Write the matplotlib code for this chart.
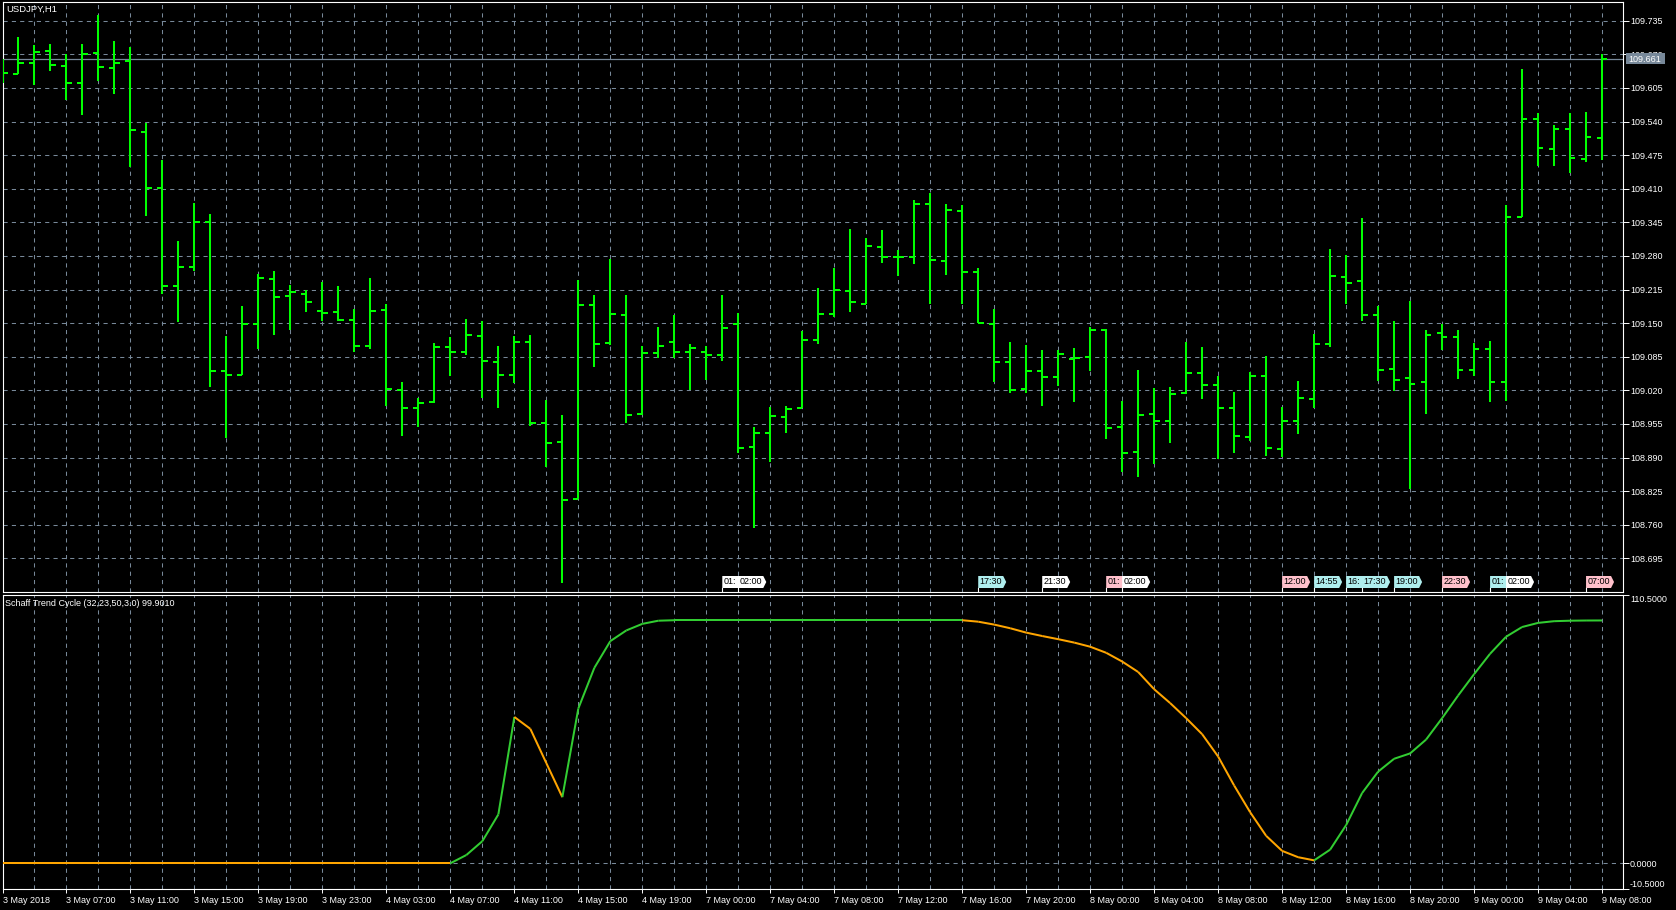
#!/usr/bin/env python3
"""USDJPY H1 bar chart with a Schaff Trend Cycle sub-window, MT4 style."""

import matplotlib
matplotlib.use("Agg")
import matplotlib.pyplot as plt
import matplotlib.transforms as mtransforms
from matplotlib.collections import LineCollection
from matplotlib.patches import Polygon, Rectangle


# --- Data ---
symbol_title = "USDJPY,H1"
indicator_title = "Schaff Trend Cycle (32,23,50,3.0) 99.9010"
bid_price = 109.661

time_labels = [
    "3 May 2018", "3 May 07:00", "3 May 11:00", "3 May 15:00", "3 May 19:00",
    "3 May 23:00", "4 May 03:00", "4 May 07:00", "4 May 11:00", "4 May 15:00",
    "4 May 19:00", "7 May 00:00", "7 May 04:00", "7 May 08:00", "7 May 12:00",
    "7 May 16:00", "7 May 20:00", "8 May 00:00", "8 May 04:00", "8 May 08:00",
    "8 May 12:00", "8 May 16:00", "8 May 20:00", "9 May 00:00", "9 May 04:00",
    "9 May 08:00",
]

opens = [
    109.640, 109.632, 109.653, 109.677, 109.647, 109.615, 109.673, 109.644, 109.658, 109.520,
    109.411, 109.222, 109.259, 109.346, 109.057, 109.049, 109.148, 109.236, 109.202, 109.206,
    109.174, 109.172, 109.156, 109.106, 109.175, 109.021, 108.985, 108.998, 109.103, 109.094,
    109.126, 109.075, 109.050, 109.114, 108.957, 108.921, 108.809, 109.186, 109.112, 109.166,
    108.974, 109.093, 109.114, 109.094, 109.094, 109.089, 109.148, 108.911, 108.938, 108.969,
    108.986, 109.117, 109.168, 109.213, 109.187, 109.298, 109.278, 109.278, 109.380, 109.270,
    109.366, 109.248, 109.149, 109.074, 109.023, 109.057, 109.046, 109.081, 109.085, 109.137,
    108.949, 108.900, 108.974, 108.960, 109.014, 109.054, 109.031, 108.986, 108.930, 109.048,
    108.907, 108.960, 109.004, 109.110, 109.240, 109.232, 109.166, 109.062, 109.044, 109.036,
    109.130, 109.124, 109.059, 109.100, 109.037, 109.355, 109.545, 109.487, 109.526, 109.468,
    109.509,
]
highs = [
    109.660, 109.703, 109.688, 109.690, 109.671, 109.690, 109.746, 109.695, 109.684, 109.537,
    109.466, 109.309, 109.382, 109.361, 109.125, 109.183, 109.245, 109.251, 109.224, 109.215,
    109.230, 109.222, 109.177, 109.237, 109.187, 109.036, 109.005, 109.111, 109.123, 109.159,
    109.155, 109.105, 109.125, 109.128, 109.001, 108.972, 109.234, 109.204, 109.274, 109.204,
    109.106, 109.143, 109.166, 109.110, 109.106, 109.204, 109.169, 108.950, 108.987, 108.990,
    109.135, 109.218, 109.257, 109.332, 109.315, 109.330, 109.291, 109.388, 109.401, 109.380,
    109.379, 109.256, 109.177, 109.113, 109.108, 109.098, 109.099, 109.101, 109.143, 109.138,
    108.999, 109.059, 109.025, 109.026, 109.114, 109.103, 109.048, 109.017, 109.056, 109.086,
    108.987, 109.038, 109.129, 109.293, 109.281, 109.353, 109.183, 109.154, 109.192, 109.136,
    109.148, 109.136, 109.111, 109.115, 109.379, 109.642, 109.556, 109.533, 109.556, 109.558,
    109.671,
]
lows = [
    109.615, 109.632, 109.611, 109.638, 109.582, 109.553, 109.618, 109.594, 109.453, 109.358,
    109.206, 109.153, 109.250, 109.027, 108.927, 109.049, 109.100, 109.128, 109.137, 109.172,
    109.154, 109.155, 109.094, 109.100, 108.990, 108.932, 108.950, 108.995, 109.048, 109.089,
    109.006, 108.985, 109.034, 108.951, 108.872, 108.648, 108.809, 109.066, 109.108, 108.957,
    108.972, 109.082, 109.082, 109.021, 109.040, 109.077, 108.898, 108.754, 108.882, 108.937,
    108.986, 109.110, 109.161, 109.172, 109.187, 109.267, 109.242, 109.264, 109.187, 109.243,
    109.187, 109.150, 109.037, 109.014, 109.014, 108.990, 109.029, 108.997, 109.058, 108.925,
    108.862, 108.853, 108.878, 108.919, 109.013, 109.004, 108.888, 108.899, 108.923, 108.893,
    108.891, 108.936, 108.986, 109.103, 109.187, 109.155, 109.038, 109.019, 108.829, 108.975,
    109.098, 109.042, 109.048, 108.997, 109.000, 109.355, 109.454, 109.454, 109.440, 109.462,
    109.465,
]
closes = [
    109.634, 109.653, 109.675, 109.649, 109.615, 109.670, 109.646, 109.653, 109.524, 109.411,
    109.222, 109.259, 109.346, 109.057, 109.049, 109.148, 109.238, 109.201, 109.210, 109.190,
    109.170, 109.157, 109.106, 109.174, 109.022, 108.986, 108.996, 109.103, 109.095, 109.128,
    109.077, 109.050, 109.114, 108.957, 108.919, 108.808, 109.186, 109.110, 109.168, 108.972,
    109.093, 109.106, 109.094, 109.102, 109.089, 109.141, 108.909, 108.938, 108.971, 108.983,
    109.117, 109.168, 109.215, 109.190, 109.300, 109.278, 109.278, 109.380, 109.272, 109.369,
    109.248, 109.150, 109.074, 109.021, 109.057, 109.046, 109.091, 109.083, 109.137, 108.947,
    108.899, 108.972, 108.960, 109.013, 109.053, 109.031, 108.985, 108.932, 109.048, 108.909,
    108.960, 109.006, 109.109, 109.242, 109.228, 109.166, 109.059, 109.040, 109.033, 109.127,
    109.124, 109.059, 109.100, 109.037, 109.356, 109.545, 109.489, 109.526, 109.469, 109.511,
    109.661,
]

stc_values = [
    0.0, 0.0, 0.0, 0.0, 0.0, 0.0, 0.0, 0.0, 0.0, 0.0,
    0.0, 0.0, 0.0, 0.0, 0.0, 0.0, 0.0, 0.0, 0.0, 0.0,
    0.0, 0.0, 0.0, 0.0, 0.0, 0.0, 0.0, 0.0, 0.0, 3.4,
    9.1, 20.1, 60.2, 55.3, 41.2, 27.2, 63.7, 80.4, 91.4, 95.8,
    98.5, 99.8, 100.0, 100.0, 100.0, 100.0, 100.0, 100.0, 100.0, 100.0,
    100.0, 100.0, 100.0, 100.0, 100.0, 100.0, 100.0, 100.0, 100.0, 100.0,
    100.0, 99.4, 98.2, 96.7, 94.9, 93.5, 92.2, 90.8, 89.1, 86.6,
    83.0, 78.7, 71.6, 65.9, 59.7, 53.1, 43.9, 32.0, 21.0, 11.3,
    5.1, 2.5, 1.2, 5.6, 15.7, 28.9, 37.7, 43.0, 45.2, 50.9,
    59.7, 69.0, 77.8, 86.2, 93.2, 97.2, 98.9, 99.6, 99.8, 99.88,
    99.901,
]

price_ticks = [
    108.695, 108.760, 108.825, 108.890, 108.955, 109.020, 109.085, 109.150,
    109.215, 109.280, 109.345, 109.410, 109.475, 109.540, 109.605, 109.670,
    109.735,
]
stc_ticks = [110.5, 0.0, -10.5]
stc_tick_labels = ["110.5000", "0.0000", "-10.5000"]

# event flags at the bottom of the price window: (bar, text, kind)
event_bars = [45, 46, 61, 65, 69, 70, 80, 82, 84, 85, 87, 90, 93, 94, 99]
event_texts = ["01:", "02:00", "17:30", "21:30", "01:", "02:00", "12:00", "14:55",
               "16:", "17:30", "19:00", "22:30", "01:", "02:00", "07:00"]
event_kinds = ["plain", "plain", "cyan", "plain", "pink", "plain", "pink", "cyan",
               "cyan", "cyan", "cyan", "pink", "cyan", "plain", "pink"]

# --- Styling ---
W, H = 1676, 910
BAR_COLOR = "#00ff00"
GRID_COLOR = "#778899"
UP_COLOR = "#32cd32"
DOWN_COLOR = "#ffa500"
FLAG_COLORS = {"plain": "#ffffff", "pink": "#ffc0cb", "cyan": "#afeeee"}
FONT = 6.5

plt.rcParams["font.family"] = ["Liberation Sans", "DejaVu Sans"]


def style_axes(ax):
    ax.set_facecolor("black")
    for spine in ax.spines.values():
        spine.set_color("white")
        spine.set_linewidth(0.8)
    ax.yaxis.tick_right()
    ax.tick_params(axis="y", colors="white", labelsize=FONT, length=4,
                   width=0.7, pad=1, direction="out")
    ax.set_axisbelow(True)


def stc_segments(values):
    """Split the line into segments coloured by direction (up green / down orange)."""
    segs, cols = [], []
    color = DOWN_COLOR
    for i in range(len(values) - 1):
        if values[i + 1] > values[i]:
            color = UP_COLOR
        elif values[i + 1] < values[i]:
            color = DOWN_COLOR
        segs.append([(i, values[i]), (i + 1, values[i + 1])])
        cols.append(color)
    return segs, cols


def main():
    n = len(closes)
    x = list(range(n))
    px_per_bar = 16.0

    fig = plt.figure(figsize=(W / 100, H / 100), dpi=100, facecolor="black")
    ax_p = fig.add_axes([2.5 / W, (H - 592) / H, 1620.5 / W, 589.7 / H])
    ax_i = fig.add_axes([2.5 / W, (H - 888.8) / H, 1620.5 / W, 294.1 / H],
                        sharex=ax_p)
    style_axes(ax_p)
    style_axes(ax_i)

    # --- Price window ---
    half = 5.4 / px_per_bar
    ax_p.vlines(x, lows, highs, color=BAR_COLOR, linewidth=1.45, zorder=3)
    ax_p.hlines(opens, [v - half for v in x], x, color=BAR_COLOR,
                linewidth=1.45, zorder=3)
    ax_p.hlines(closes, x, [v + half for v in x], color=BAR_COLOR,
                linewidth=1.45, zorder=3)
    ax_p.axhline(bid_price, color=GRID_COLOR, linewidth=0.9, zorder=2)

    ax_p.set_xlim(0.031, 101.31)
    ax_p.set_ylim(108.630, 109.7706)
    ax_p.set_yticks(price_ticks)
    ax_p.set_yticklabels([f"{t:.3f}" for t in price_ticks])
    ax_p.grid(True, which="both", color=GRID_COLOR, linewidth=0.75,
              linestyle=(0, (4, 4)))
    ax_p.tick_params(axis="x", which="both", length=0, labelbottom=False)

    ax_p.annotate(symbol_title, xy=(0, 1), xycoords="axes fraction",
                  xytext=(4, -7), textcoords="offset pixels", color="white",
                  fontsize=FONT + 0.3, ha="left", va="center")

    # bid price box on the right axis (covers most of the 109.670 label)
    blend_r = mtransforms.blended_transform_factory(ax_p.transAxes, ax_p.transData)
    box_h = 11 / 517
    ax_p.add_patch(Rectangle((1.0018, bid_price - box_h / 2), 0.0242, box_h,
                             transform=blend_r, facecolor=GRID_COLOR,
                             edgecolor="none", clip_on=False, zorder=5))
    ax_p.text(1.0035, bid_price, f"{bid_price:.3f}", transform=blend_r,
              color="white", fontsize=FONT, ha="left", va="center_baseline",
              clip_on=False, zorder=6)

    # event flags
    blend_b = mtransforms.blended_transform_factory(ax_p.transData, ax_p.transAxes)
    ph = 589.7
    yb, yt, ym = 4 / ph, 16 / ph, 10 / ph
    for k, (bar, txt, kind) in enumerate(zip(event_bars, event_texts, event_kinds)):
        w = 25 / px_per_bar
        tip = 28 / px_per_bar
        z = 10 + k
        ax_p.add_patch(Polygon(
            [(bar, yb), (bar, yt), (bar + w, yt), (bar + tip, ym), (bar + w, yb)],
            closed=True, transform=blend_b, facecolor=FLAG_COLORS[kind],
            edgecolor="none", zorder=z))
        ax_p.plot([bar, bar], [0, yb], transform=blend_b, color="white",
                  linewidth=0.8, zorder=z)
        ax_p.text(bar + 1.5 / px_per_bar, ym, txt, transform=blend_b,
                  color="black", fontsize=FONT, ha="left", va="center",
                  zorder=z + 0.5)

    # --- Indicator window ---
    segs, cols = stc_segments(stc_values)
    ax_i.add_collection(LineCollection(segs, colors=cols, linewidths=1.45,
                                       zorder=3))
    ax_i.set_ylim(-10.5, 110.5)
    ax_i.set_yticks(stc_ticks)
    ax_i.set_yticklabels(stc_tick_labels)
    labels = ax_i.get_yticklabels()
    labels[0].set_va("top")
    labels[2].set_va("bottom")
    ax_i.grid(True, which="both", color=GRID_COLOR, linewidth=0.75,
              linestyle=(0, (4, 4)))

    ax_i.set_xticks(list(range(0, n, 4)))
    ax_i.set_xticklabels(time_labels, ha="left")
    ax_i.set_xticks(list(range(0, n, 2)), minor=True)
    ax_i.tick_params(axis="x", which="major", colors="white", labelsize=FONT,
                     length=3, width=0.7, pad=2, direction="out")
    ax_i.tick_params(axis="x", which="minor", length=0)

    ax_i.annotate(indicator_title, xy=(0, 1), xycoords="axes fraction",
                  xytext=(2.5, -8.5), textcoords="offset pixels", color="white",
                  fontsize=FONT, ha="left", va="center")

    fig.savefig("out.png", dpi=100, facecolor="black")


if __name__ == "__main__":
    main()
